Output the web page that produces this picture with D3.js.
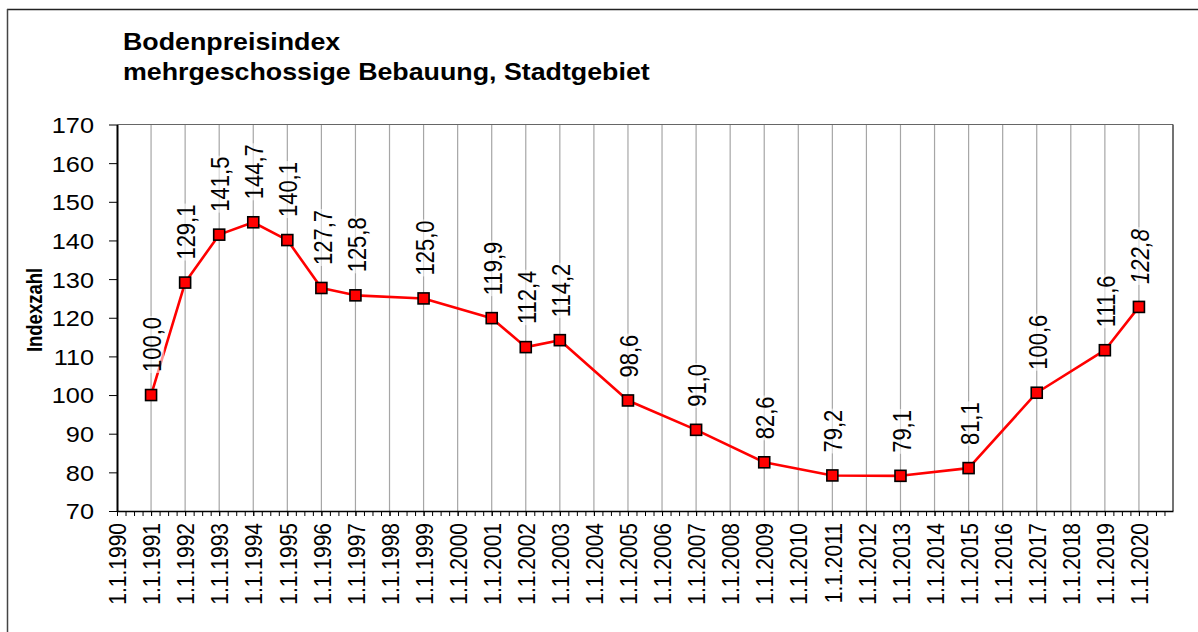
<!DOCTYPE html>
<html>
<head>
<meta charset="utf-8">
<script src="https://cdn.jsdelivr.net/npm/d3@7"></script>
<style>
  html, body { margin: 0; padding: 0; background: #fff; }
  svg { display: block; font-family: "Liberation Sans", Arial, sans-serif; }
</style>
</head>
<body>
<svg id="chart" width="1198" height="632"></svg>
<script>
// ---- data ----
const titleLines = ["Bodenpreisindex", "mehrgeschossige Bebauung, Stadtgebiet"];
const yAxisTitle = "Indexzahl";
const years = [1991, 1992, 1993, 1994, 1995, 1996, 1997, 1999, 2001, 2002, 2003, 2005, 2007, 2009, 2011, 2013, 2015, 2017, 2019, 2020];
const values = [100.0, 129.1, 141.5, 144.7, 140.1, 127.7, 125.8, 125.0, 119.9, 112.4, 114.2, 98.6, 91.0, 82.6, 79.2, 79.1, 81.1, 100.6, 111.6, 122.8];
const valueLabels = ["100,0", "129,1", "141,5", "144,7", "140,1", "127,7", "125,8", "125,0", "119,9", "112,4", "114,2", "98,6", "91,0", "82,6", "79,2", "79,1", "81,1", "100,6", "111,6", "122,8"];
const italicLabels = [2020];
const tickYears = d3.range(1990, 2021);
const tickLabels = tickYears.map(y => "1.1." + y);
const yTicks = [70, 80, 90, 100, 110, 120, 130, 140, 150, 160, 170];

// ---- layout ----
const svg = d3.select("#chart");
const L = 117, R = 1173, T = 124.5, B = 511;
const SX = 1.15; // horizontal text stretch as in the reference

const x = d3.scaleLinear().domain([1990, 2021]).range([L, R]);
const y = d3.scaleLinear().domain([70, 170]).range([B, T]);

// outer frame
svg.append("line").attr("x1", 7).attr("x2", 1198).attr("y1", 9.5).attr("y2", 9.5)
  .attr("stroke", "#222").attr("stroke-width", 1.5);
svg.append("line").attr("x1", 7.5).attr("x2", 7.5).attr("y1", 9).attr("y2", 632)
  .attr("stroke", "#444").attr("stroke-width", 1.5);

// title
titleLines.forEach((t, i) => {
  svg.append("text")
    .attr("transform", `translate(123,${50 + i * 30}) scale(1.165,1)`)
    .attr("font-size", 23).attr("font-weight", "bold").attr("fill", "#000")
    .text(t);
});

// vertical gridlines
svg.append("g").selectAll("line").data(tickYears.slice(1))
  .join("line")
  .attr("x1", d => x(d)).attr("x2", d => x(d))
  .attr("y1", T).attr("y2", B)
  .attr("stroke", "#a6a6a6").attr("stroke-width", 1.2);

// plot frame top & right
svg.append("line").attr("x1", L).attr("x2", R).attr("y1", T).attr("y2", T)
  .attr("stroke", "#666").attr("stroke-width", 1.2);
svg.append("line").attr("x1", R).attr("x2", R).attr("y1", T).attr("y2", B)
  .attr("stroke", "#444").attr("stroke-width", 1.5);

// minor quarterly ticks
const quarterTicks = d3.range(0, 124).map(i => 1990 + i * 0.25);
const minorAxis = svg.append("g").attr("transform", `translate(0,${B})`)
  .call(d3.axisBottom(x).tickValues(quarterTicks).tickSize(5).tickFormat(""));
minorAxis.select(".domain").remove();
minorAxis.selectAll(".tick line").attr("stroke", "#000").attr("stroke-width", 1);

// x axis
const xAxis = svg.append("g").attr("transform", `translate(0,${B})`)
  .call(d3.axisBottom(x).tickValues(tickYears).tickSize(5).tickSizeOuter(0)
        .tickFormat((d, i) => tickLabels[i]));
xAxis.select(".domain").attr("stroke", "#000").attr("stroke-width", 1.5);
xAxis.selectAll(".tick line").attr("stroke", "#000");
xAxis.selectAll(".tick text")
  .attr("font-size", 21).attr("fill", "#000")
  .attr("font-family", "Liberation Sans, Arial, sans-serif")
  .attr("text-anchor", "end")
  .attr("x", 0).attr("y", 0).attr("dy", "0.36em")
  .attr("transform", `translate(0,12) scale(${SX},1) rotate(-90)`);

// y axis
const yAxis = svg.append("g").attr("transform", `translate(${L},0)`)
  .call(d3.axisLeft(y).tickValues(yTicks).tickSize(8).tickSizeOuter(0));
yAxis.select(".domain").attr("stroke", "#000").attr("stroke-width", 2);
yAxis.selectAll(".tick line").attr("stroke", "#000");
yAxis.selectAll(".tick text")
  .attr("font-size", 22).attr("fill", "#000")
  .attr("font-family", "Liberation Sans, Arial, sans-serif")
  .attr("x", 0).attr("dy", "0.36em")
  .attr("transform", `translate(-23,0) scale(${SX},1)`);

// y axis title
svg.append("text")
  .attr("transform", `translate(42,310) scale(${SX},1) rotate(-90)`)
  .attr("text-anchor", "middle")
  .attr("font-size", 18.5).attr("font-weight", "bold").attr("fill", "#000")
  .text(yAxisTitle);

// line
const pts = years.map((yr, i) => ({ yr, v: values[i], lab: valueLabels[i] }));
svg.append("path").datum(pts)
  .attr("fill", "none").attr("stroke", "#ff0000").attr("stroke-width", 2.6)
  .attr("stroke-linejoin", "round")
  .attr("d", d3.line().x(d => x(d.yr)).y(d => y(d.v)));

// markers
svg.append("g").selectAll("rect").data(pts).join("rect")
  .attr("x", d => x(d.yr) - 5.5).attr("y", d => y(d.v) - 5.5)
  .attr("width", 11).attr("height", 11)
  .attr("fill", "#ff0000").attr("stroke", "#000").attr("stroke-width", 1.6);

// data labels with semi-transparent background
const lg = svg.append("g").selectAll("g").data(pts).join("g")
  .attr("transform", d => `translate(${x(d.yr) + 1},${y(d.v) - 23}) scale(${SX},1) rotate(-90)`);
lg.each(function(d) {
  const g = d3.select(this);
  const rect = g.append("rect");
  const t = g.append("text")
    .attr("font-size", 22).attr("fill", "#000")
    .attr("dy", "0.36em")
    .attr("font-style", italicLabels.includes(d.yr) ? "italic" : "normal")
    .text(d.lab);
  const bb = t.node().getBBox();
  rect.attr("x", bb.x - 1).attr("y", bb.y + 2).attr("width", bb.width + 2).attr("height", bb.height - 4)
    .attr("fill", "#fff").attr("fill-opacity", 0.55);
});
</script>
</body>
</html>
